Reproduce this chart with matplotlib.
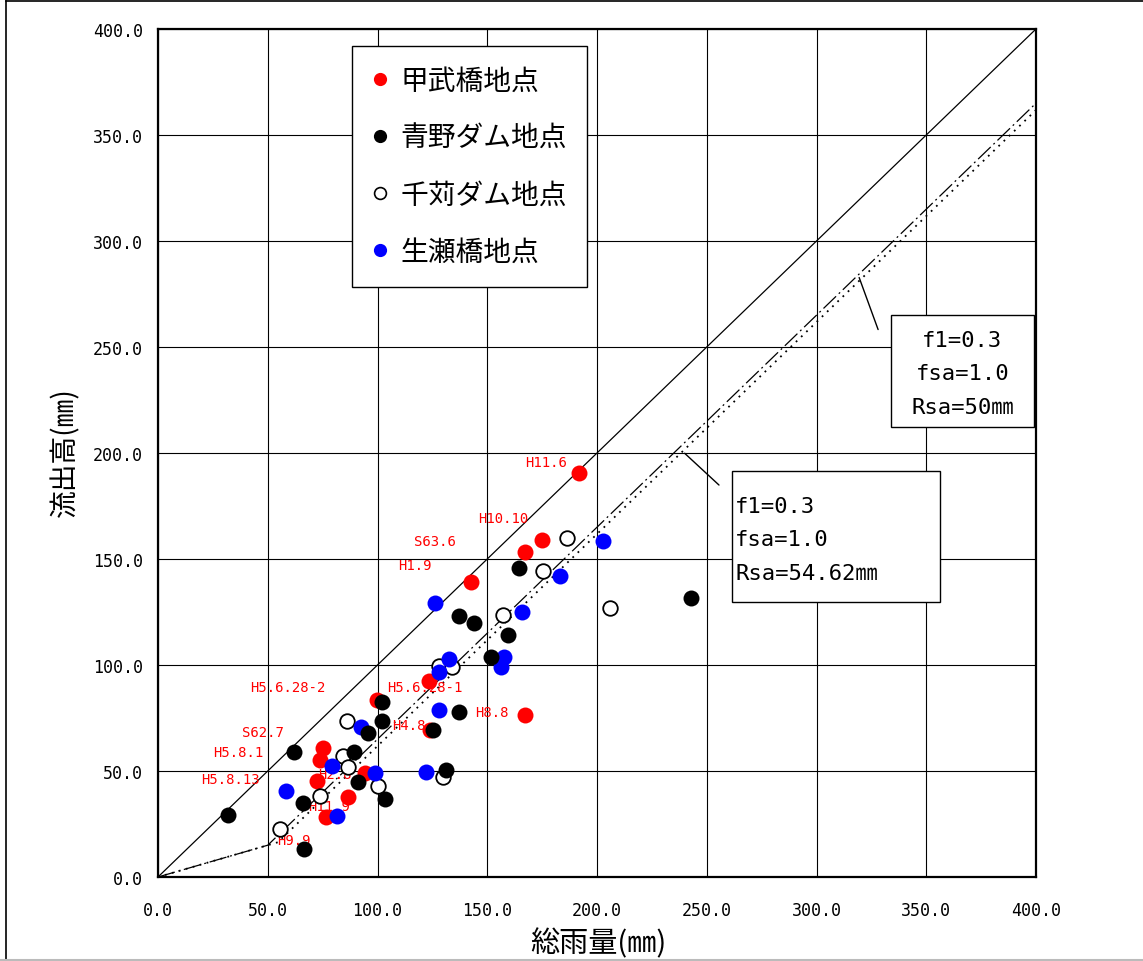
import numpy as np
import matplotlib
matplotlib.use("Agg")
import matplotlib.pyplot as plt
from matplotlib.patches import Rectangle
from matplotlib.lines import Line2D

plt.rcParams['font.family'] = ['Noto Sans CJK JP', 'DejaVu Sans']
MONO = ['DejaVu Sans Mono', 'Noto Sans CJK JP']

# 総雨量 (x), 流出高 (y)  [mm]
kobu_x = [99.6, 75.0, 73.8, 72.6, 86.7, 76.4, 94.3, 123.6, 123.9, 191.8, 174.9, 167.2, 142.7, 167.2]
kobu_y = [83.6, 60.8, 55.3, 45.4, 37.6, 28.2, 49.1, 92.3, 69.5, 190.4, 159.1, 153.2, 139.0, 76.4]
kobu_lbl = ['H5.6.28-2', 'S62.7', 'H5.8.1', 'H5.8.13', 'H11.9', 'H9.9', 'H2.8', 'H5.6.28-1',
            'H4.8', 'H11.6', 'H10.10', 'S63.6', 'H1.9', 'H8.8']

aono_x = [31.7, 62.1, 102.2, 102.2, 95.8, 89.3, 91.3, 103.4, 65.9, 66.7, 125.4, 137.3,
          131.2, 151.6, 164.6, 137.0, 144.0, 159.6, 242.7]
aono_y = [29.4, 58.8, 82.4, 73.7, 67.9, 58.8, 44.7, 36.8, 34.9, 13.2, 69.5, 78.0,
          50.3, 103.6, 145.8, 123.0, 119.8, 114.3, 131.6]

sengari_x = [55.6, 73.8, 84.1, 86.7, 85.9, 100.1, 129.7, 128.2, 133.8, 186.5, 175.5, 157.0, 205.9]
sengari_y = [22.6, 38.4, 56.9, 51.7, 73.7, 43.1, 47.4, 99.5, 99.0, 159.9, 144.5, 123.7, 126.9]

namaze_x = [58.3, 79.1, 92.5, 98.9, 81.4, 122.1, 128.0, 132.5, 127.8, 202.6, 183.3, 166.0,
            126.0, 157.6, 156.1]
namaze_y = [40.7, 52.2, 70.9, 48.9, 28.6, 49.5, 78.9, 103.0, 96.9, 158.3, 141.8, 125.1,
            129.1, 103.6, 98.9]

# 流出モデル: f1, fsa, Rsa
f1 = 0.3
fsa = 1.0
rsa_a = 50.0
rsa_b = 54.62


def runoff(r, rsa):
    r = np.asarray(r, dtype=float)
    return np.where(r < rsa, f1 * r, f1 * rsa + fsa * (r - rsa))


# label text positions (data coords)
lbl_pos = [(59.2, 89.6), (47.8, 68.4), (36.4, 59.0), (32.8, 46.2), (77.9, 33.6), (62.0, 17.6),
           (80.5, 48.4), (121.6, 89.6), (114.4, 71.7), (176.8, 195.8), (157.2, 169.3),
           (126.2, 158.5), (117.1, 147.2), (152.2, 77.8)]

fig = plt.figure(figsize=(11.43, 9.62), dpi=100)
ax = fig.add_axes([158 / 1143, (962 - 878) / 962, 878 / 1143, 848 / 962])

# 1:1 line and model lines
r = np.array([0, 400])
ax.plot(r, r, color='black', lw=0.9, zorder=2)
ra = np.array([0, rsa_a, 400])
ax.plot(ra, runoff(ra, rsa_a), color='black', lw=0.9, ls=(0, (14, 3, 1.5, 3)), zorder=2)
rb = np.array([0, rsa_b, 400])
ax.plot(rb, runoff(rb, rsa_b), color='black', lw=1.3, ls=(0, (1, 3)), zorder=2)

# event labels (under the markers)
for t, (lx, ly) in zip(kobu_lbl, lbl_pos):
    ax.text(lx, ly, t, color='#ff0000', fontsize=10, family=MONO,
            ha='center', va='center', zorder=3)

ms = 11.5
ax.plot(kobu_x, kobu_y, 'o', color='#ff0000', ms=ms, mec='none', zorder=4)
ax.plot(sengari_x, sengari_y, 'o', mfc='white', mec='black', mew=1.3, ms=ms - 1, zorder=5)
ax.plot(namaze_x, namaze_y, 'o', color='#0000ff', ms=ms, mec='none', zorder=6)
ax.plot(aono_x, aono_y, 'o', color='black', ms=ms, mec='none', zorder=7)

ax.set_xlim(0, 400)
ax.set_ylim(0, 400)
ticks = np.arange(0, 401, 50)
ax.set_xticks(ticks)
ax.set_yticks(ticks)
ax.set_xticklabels(['%.1f' % v for v in ticks], family=MONO, fontsize=12)
ax.set_yticklabels(['%.1f' % v for v in ticks], family=MONO, fontsize=12)
ax.tick_params(length=0)
ax.tick_params(axis='x', pad=17)
ax.tick_params(axis='y', pad=11)
ax.grid(True, color='black', lw=0.8)
ax.set_axisbelow(True)
for s in ax.spines.values():
    s.set_linewidth(1.6)

ax.set_xlabel('総雨量(㎜)', fontsize=21)
ax.set_ylabel('流出高(㎜)', fontsize=20)
ax.xaxis.set_label_coords(0.502, -0.078)
ax.xaxis.label.set_va('center')
ax.yaxis.set_label_coords(-0.106, 0.502)
ax.yaxis.label.set_va('center')

# annotation boxes
ax.add_patch(Rectangle((333.8, 212.4), 65.3, 52.7, facecolor='white', edgecolor='black',
                       lw=1, zorder=8))
ax.text(366.5, 237.5, 'f1=%.1f\nfsa=%.1f\nRsa=%d㎜' % (f1, fsa, rsa_a), family=MONO,
        fontsize=16, ha='center', va='center', linespacing=1.82, zorder=9)
ax.add_patch(Rectangle((261.6, 129.6), 94.7, 62.1, facecolor='white', edgecolor='black',
                       lw=1, zorder=8))
ax.text(263.0, 159.2, 'f1=%.1f\nfsa=%.1f\nRsa=%.2f㎜' % (f1, fsa, rsa_b), family=MONO,
        fontsize=16, ha='left', va='center', linespacing=1.82, zorder=9)
ax.annotate('', xy=(319, float(runoff(319, rsa_a))), xytext=(328.5, 257),
            arrowprops=dict(arrowstyle='-', lw=1, color='black'), zorder=8)
ax.annotate('', xy=(239, float(runoff(239, rsa_b))), xytext=(256.5, 184),
            arrowprops=dict(arrowstyle='-', lw=1, color='black'), zorder=8)

# legend
handles = [
    Line2D([], [], ls='none', marker='o', color='#ff0000', mec='none', ms=9.5),
    Line2D([], [], ls='none', marker='o', color='black', mec='none', ms=9.5),
    Line2D([], [], ls='none', marker='o', mfc='white', mec='black', mew=1.2, ms=8.5),
    Line2D([], [], ls='none', marker='o', color='#0000ff', mec='none', ms=9.5),
]
names = ['甲武橋地点', '青野ダム地点', '千苅ダム地点', '生瀬橋地点']
leg = ax.legend(handles, names, loc='upper left', bbox_to_anchor=(0.221, 0.980),
                fontsize=20, frameon=True, fancybox=False, framealpha=1,
                edgecolor='black', handlelength=0.6, handletextpad=0.45,
                labelspacing=0.98, borderpad=0.7, borderaxespad=0)
leg.get_frame().set_linewidth(1.0)
leg.set_zorder(10)

# outer frame
fig.add_artist(Line2D([6 / 1143, 6 / 1143], [0, 1 - 2 / 962], color='black', lw=1.2))
fig.add_artist(Line2D([6 / 1143, 1], [1 - 2 / 962, 1 - 2 / 962], color='black', lw=1.2))
fig.add_artist(Line2D([0, 1], [1 / 962, 1 / 962], color='#bbbbbb', lw=1.5))

fig.savefig('out.png', dpi=100)
